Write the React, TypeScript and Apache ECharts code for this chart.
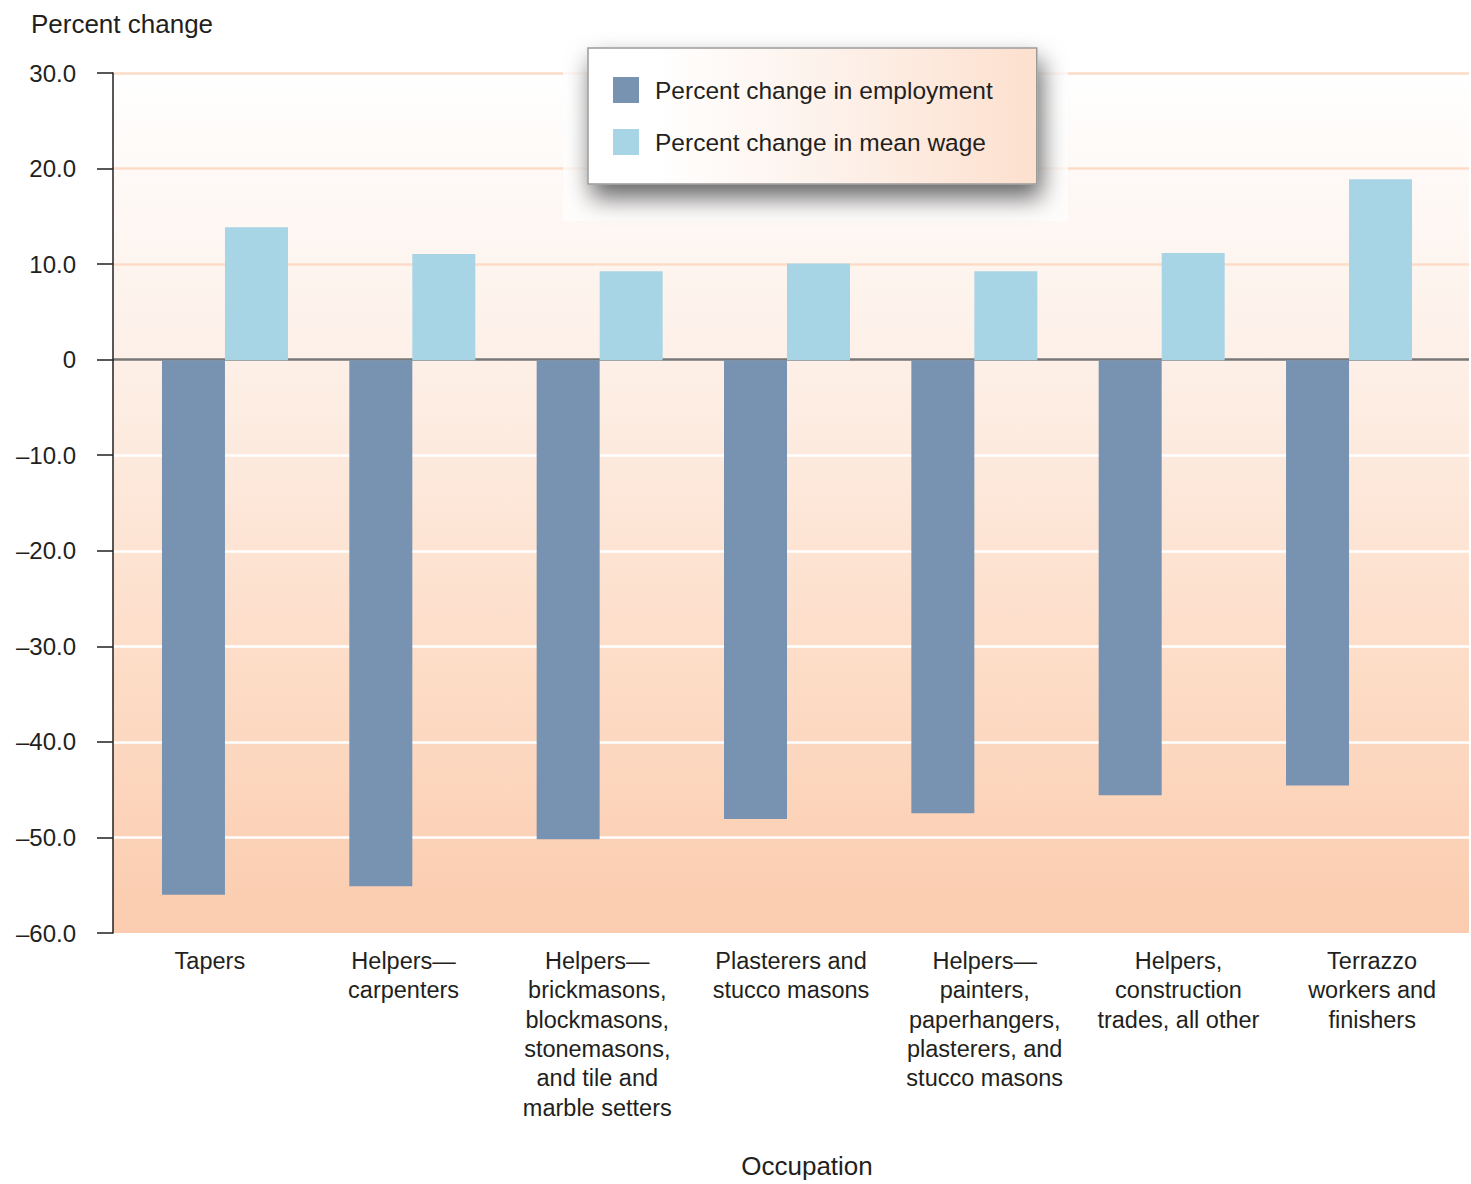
import React, { useEffect, useRef } from "react";
import * as echarts from "echarts";

const categories = [
  "Tapers",
  "Helpers—\ncarpenters",
  "Helpers—\nbrickmasons,\nblockmasons,\nstonemasons,\nand tile and\nmarble setters",
  "Plasterers and\nstucco masons",
  "Helpers—\npainters,\npaperhangers,\nplasterers, and\nstucco masons",
  "Helpers,\nconstruction\ntrades, all other",
  "Terrazzo\nworkers and\nfinishers",
];
const employmentChange = [-55.8, -54.9, -50.0, -47.9, -47.3, -45.4, -44.4];
const wageChange = [13.9, 11.1, 9.3, 10.1, 9.3, 11.2, 18.9];
const seriesNames = ["Percent change in employment", "Percent change in mean wage"];
const yMin = -60;
const yMax = 30;
const yInterval = 10;

const FONT = "'Liberation Sans', Arial, sans-serif";
const TEXT = "#231f20";

export default function App() {
  const ref = useRef<HTMLDivElement>(null);
  useEffect(() => {
    document.body.style.margin = "0";
    if (!ref.current) return;
    const chart = echarts.init(ref.current, undefined, { renderer: "svg" });
    const fmt = (v: number) => (v === 0 ? "0" : v < 0 ? "\u2013" + Math.abs(v).toFixed(1) : v.toFixed(1));
    chart.setOption({
      animation: false,
      textStyle: { fontFamily: FONT, color: TEXT },
      grid: [
        {
          left: 113, right: 2, top: 73, bottom: 249, show: true, borderWidth: 0,
          backgroundColor: {
            type: "linear", x: 0, y: 0, x2: 0, y2: 1,
            colorStops: [
              { offset: 0, color: "#ffffff" },
              { offset: 0.33, color: "#fdf0e8" },
              { offset: 0.7, color: "#fddcc6" },
              { offset: 1, color: "#fbccaf" },
            ],
          },
        },
        { left: 131.3, right: 28.3, top: 73, bottom: 249 },
      ],
      legend: {
        orient: "vertical",
        left: 588, top: 48,
        padding: [29, 44, 29, 25],
        itemWidth: 26, itemHeight: 26, itemGap: 26,
        icon: "rect",
        data: seriesNames,
        textStyle: { fontFamily: FONT, fontSize: 24.5, color: TEXT, padding: [0, 0, 0, 11] },
        backgroundColor: {
          type: "linear", x: 0, y: 0, x2: 1, y2: 0,
          colorStops: [
            { offset: 0, color: "#ffffff" },
            { offset: 0.15, color: "#ffffff" },
            { offset: 0.55, color: "#fdf1ea" },
            { offset: 1, color: "#fde0ce" },
          ],
        },
        borderColor: "#9a9a9a", borderWidth: 1.5,
        shadowBlur: 24, shadowColor: "rgba(0,0,0,0.6)", shadowOffsetX: 4, shadowOffsetY: 13,
      },
      graphic: [
        { type: "rect", z: 3, shape: { x: 563, y: 40, width: 505, height: 181 }, style: { fill: "rgba(255,255,255,0.75)" } },
      ],
      xAxis: [
        {
          type: "category", gridIndex: 0, data: categories, boundaryGap: true,
          axisLine: { show: false }, axisTick: { show: false },
          axisLabel: { fontFamily: FONT, fontSize: 23.5, color: TEXT, lineHeight: 29.4, margin: 13, interval: 0 },
          name: "Occupation", nameLocation: "middle", nameGap: 220,
          nameTextStyle: { fontFamily: FONT, fontSize: 26, color: TEXT, padding: [0, 0, 0, 32] },
        },
        {
          type: "category", gridIndex: 1, data: categories, show: false,
        },
      ],
      yAxis: [
        {
          type: "value", gridIndex: 0, min: yMin, max: yMax, interval: yInterval,
          axisLine: { show: true, lineStyle: { color: TEXT, width: 1.5 } },
          axisTick: { show: true, length: 16, lineStyle: { color: TEXT, width: 1.5 } },
          axisLabel: { fontFamily: FONT, fontSize: 24, color: TEXT, margin: 37, formatter: fmt },
          splitLine: {
            show: true,
            lineStyle: {
              width: 2.5,
              color: ["rgba(0,0,0,0)", "#ffffff", "#ffffff", "#ffffff", "#ffffff", "#ffffff", "#777777", "#fcdcc8", "#fcdcc8", "#fcdcc8"],
            },
          },
          name: "Percent change", nameLocation: "end", nameGap: 36,
          nameTextStyle: { fontFamily: FONT, fontSize: 26, color: TEXT, align: "center", padding: [0, 0, 0, 18] },
        },
        { type: "value", gridIndex: 1, min: yMin, max: yMax, interval: yInterval, show: false, splitLine: { show: false } },
      ],
      series: [
        {
          name: seriesNames[0], type: "bar", xAxisIndex: 1, yAxisIndex: 1,
          data: employmentChange, barWidth: 63, barGap: "0%",
          itemStyle: { color: "#7893b1" },
        },
        {
          name: seriesNames[1], type: "bar", xAxisIndex: 1, yAxisIndex: 1,
          data: wageChange, barWidth: 63, barGap: "0%",
          itemStyle: { color: "#a7d5e6" },
        },
      ],
    });
    return () => chart.dispose();
  }, []);
  return <div ref={ref} style={{ width: 1471, height: 1184 }} />;
}
